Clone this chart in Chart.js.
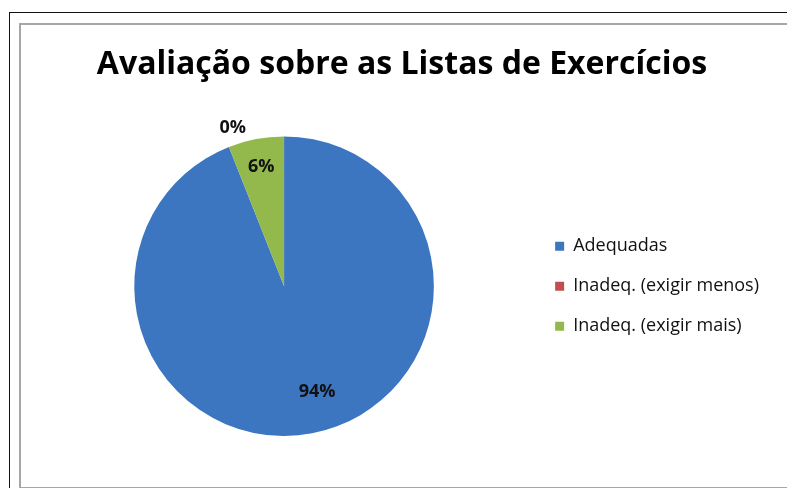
<!DOCTYPE html>
<html>
<head>
<meta charset="utf-8">
<script src="https://cdn.jsdelivr.net/npm/chart.js@4"></script>
<style>
  html, body { margin: 0; padding: 0; background: #fff; }
  body { width: 787px; height: 488px; position: relative; overflow: hidden; }
  #moldura { position: absolute; left: 9px; top: 12px; width: 800px; height: 500px; border: 1px solid #111; }
  #interna { position: absolute; left: 19px; top: 23px; width: 800px; height: 462px; border: 2px solid #a6a6a6; }
  #grafico { position: absolute; left: 0; top: 0; }
</style>
</head>
<body>
<div id="moldura"></div>
<div id="interna"></div>
<canvas id="grafico" width="787" height="488"></canvas>
<script>
const categorias = ["Adequadas", "Inadeq. (exigir menos)", "Inadeq. (exigir mais)"];
const valores = [94, 0, 6];
const rotulos = ["94%", "0%", "6%"];
const cores = ["#3c76c1", "#c0504d", "#93b94c"];

// posição dos rótulos: fração do raio e desvio de ângulo em graus (imita o "melhor ajuste" do Excel)
const raioRotulo = [0.74, 1.11, 0.81];
const desvioRotulo = [-6.5, 3.6, 0];

const pluginRotulos = {
  id: "rotulosFatia",
  afterDatasetsDraw(chart) {
    const ctx = chart.ctx;
    const meta = chart.getDatasetMeta(0);
    ctx.save();
    ctx.font = "bold 18px 'Open Sans'";
    ctx.fillStyle = "#111";
    ctx.textAlign = "center";
    ctx.textBaseline = "middle";
    meta.data.forEach((arco, i) => {
      const p = arco.getProps(["x", "y", "startAngle", "endAngle", "outerRadius"], true);
      const meio = (p.startAngle + p.endAngle) / 2 + desvioRotulo[i] * Math.PI / 180;
      const r = p.outerRadius * raioRotulo[i];
      ctx.fillText(rotulos[i], p.x + Math.cos(meio) * r, p.y + Math.sin(meio) * r);
    });
    ctx.restore();
  }
};

const ctx = document.getElementById("grafico").getContext("2d");
const grafico = new Chart(ctx, {
  type: "pie",
  data: {
    labels: categorias,
    datasets: [{
      data: valores,
      backgroundColor: cores,
      borderWidth: 0,
    }],
  },
  options: {
    responsive: false,
    animation: false,
    layout: {
      padding: { left: 35, right: 18, top: 0, bottom: 52 },
    },
    plugins: {
      title: {
        display: true,
        text: "Avaliação sobre as Listas de Exercícios",
        color: "#000",
        font: { family: "Open Sans", size: 32, weight: "bold" },
        padding: { top: 46, bottom: 52 },
      },
      legend: {
        position: "right",
        fullSize: false,
        labels: {
          boxWidth: 9,
          boxHeight: 9,
          padding: 22,
          color: "#111",
          font: { family: "Open Sans", size: 18 },
        },
      },
      tooltip: { enabled: false },
    },
  },
  plugins: [pluginRotulos],
});
</script>
</body>
</html>
